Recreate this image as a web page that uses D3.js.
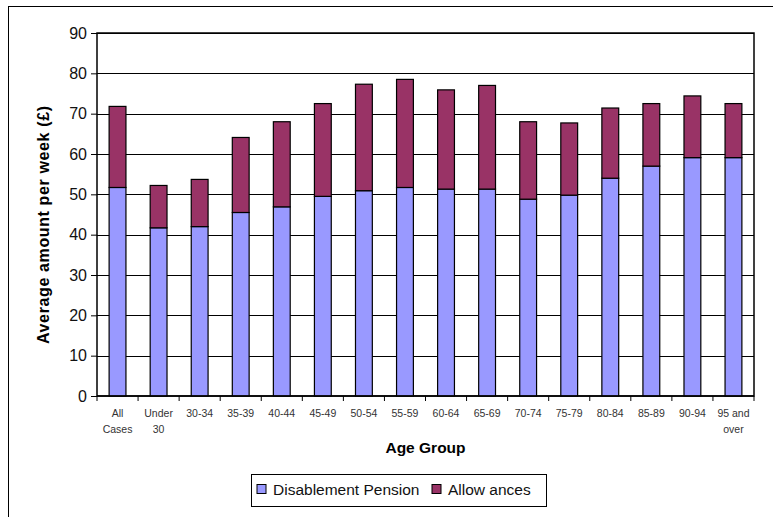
<!DOCTYPE html>
<html>
<head>
<meta charset="utf-8">
<script src="https://cdn.jsdelivr.net/npm/d3@7"></script>
<style>
  body { margin: 0; background: #fff; }
  text { font-family: "Liberation Sans", Arial, sans-serif; }
</style>
</head>
<body>
<div id="chart"></div>
<script>
var categories = ["All Cases", "Under 30", "30-34", "35-39", "40-44", "45-49", "50-54", "55-59",
  "60-64", "65-69", "70-74", "75-79", "80-84", "85-89", "90-94", "95 and over"];
var categoryLines = [["All", "Cases"], ["Under", "30"], ["30-34"], ["35-39"], ["40-44"], ["45-49"],
  ["50-54"], ["55-59"], ["60-64"], ["65-69"], ["70-74"], ["75-79"], ["80-84"], ["85-89"], ["90-94"],
  ["95 and", "over"]];
var disablementPension = [51.7, 41.7, 42.0, 45.5, 46.9, 49.5, 50.9, 51.7, 51.3, 51.3, 48.8, 49.8, 54.0, 57.0, 59.1, 59.1];
var allowances = [20.1, 10.5, 11.7, 18.6, 21.1, 23.0, 26.4, 26.8, 24.6, 25.7, 19.2, 17.9, 17.4, 15.5, 15.3, 13.4];
var yTicks = [0, 10, 20, 30, 40, 50, 60, 70, 80, 90];
var seriesNames = ["Disablement Pension", "Allowances"];
var seriesLegend = ["Disablement Pension", "Allow ances"];
var colors = ["#9999ff", "#993366"];

var W = 773, H = 517;
var m = {left: 97, top: 33, right: 19, bottom: 121};
var w = W - m.left - m.right;
var h = H - m.top - m.bottom;

var svg = d3.select("#chart").append("svg")
  .attr("width", W)
  .attr("height", H);

// outer chart frame (cut off at right and bottom)
svg.append("rect")
  .attr("x", 8.5).attr("y", 6.5)
  .attr("width", W + 10).attr("height", H + 10)
  .attr("fill", "none").attr("stroke", "#000").attr("stroke-width", 1);

var x = d3.scaleBand().domain(categories).range([0, w]).paddingInner(0.59).paddingOuter(0.295);
var y = d3.scaleLinear().domain([0, 90]).range([h, 0]);

var g = svg.append("g").attr("transform", "translate(" + m.left + "," + m.top + ")");

// gridlines
g.append("g").selectAll("line")
  .data(yTicks.slice(1))
  .enter().append("line")
  .attr("x1", 0).attr("x2", w)
  .attr("y1", function(d) { return Math.round(y(d)) + 0.5; })
  .attr("y2", function(d) { return Math.round(y(d)) + 0.5; })
  .attr("stroke", "#000").attr("stroke-width", 1);

// plot frame
g.append("rect")
  .attr("x", 0).attr("y", 0).attr("width", w).attr("height", h)
  .attr("fill", "none").attr("stroke", "#000").attr("stroke-width", 1.5);

var rows = categories.map(function(c, i) {
  return {cat: c, "Disablement Pension": disablementPension[i], "Allowances": allowances[i]};
});
var stacked = d3.stack().keys(seriesNames)(rows);

g.selectAll(".series")
  .data(stacked)
  .enter().append("g")
  .attr("class", "series")
  .attr("fill", function(d, i) { return colors[i]; })
  .selectAll("rect")
  .data(function(d) { return d; })
  .enter().append("rect")
  .attr("x", function(d) { return x(d.data.cat); })
  .attr("y", function(d) { return y(d[1]); })
  .attr("width", x.bandwidth())
  .attr("height", function(d) { return y(d[0]) - y(d[1]); })
  .attr("stroke", "#000").attr("stroke-width", 1.2);

// y axis
var yAxis = d3.axisLeft(y).tickValues(yTicks).tickSize(6).tickPadding(4);
var ya = g.append("g").call(yAxis);
ya.select(".domain").remove();
ya.selectAll("line").attr("stroke", "#000");
ya.selectAll("text").attr("font-size", 16).attr("fill", "#111");

// x axis ticks at band boundaries
var bounds = d3.range(categories.length + 1).map(function(i) { return i * w / categories.length; });
g.append("g").selectAll("line")
  .data(bounds)
  .enter().append("line")
  .attr("x1", function(d) { return d; }).attr("x2", function(d) { return d; })
  .attr("y1", h).attr("y2", h + 5)
  .attr("stroke", "#000");
g.append("line").attr("x1", 0).attr("x2", w).attr("y1", h).attr("y2", h)
  .attr("stroke", "#000").attr("stroke-width", 1.5);

var xl = g.append("g").selectAll("text")
  .data(categories)
  .enter().append("text")
  .attr("x", function(d) { return x(d) + x.bandwidth() / 2; })
  .attr("y", h + 21)
  .attr("text-anchor", "middle")
  .attr("font-size", 10.5)
  .attr("fill", "#333");
xl.selectAll("tspan")
  .data(function(d, i) { return categoryLines[i]; })
  .enter().append("tspan")
  .attr("x", function() { return d3.select(this.parentNode).attr("x"); })
  .attr("dy", function(d, i) { return i === 0 ? 0 : 15.5; })
  .text(function(d) { return d; });

// axis titles
svg.append("text")
  .attr("x", m.left + w / 2).attr("y", 453)
  .attr("text-anchor", "middle")
  .attr("font-size", 15.5).attr("font-weight", "bold")
  .text("Age Group");

svg.append("text")
  .attr("transform", "translate(49,225) rotate(-90)")
  .attr("text-anchor", "middle")
  .attr("font-size", 16).attr("font-weight", "bold")
  .attr("textLength", 238)
  .text("Average amount per week (£)");

// legend
var lg = svg.append("g").attr("transform", "translate(251.5,474.5)");
lg.append("rect").attr("width", 295).attr("height", 32)
  .attr("fill", "#fff").attr("stroke", "#000").attr("stroke-width", 1);
var legendX = [5.5, 180.5];
seriesLegend.forEach(function(s, i) {
  lg.append("rect")
    .attr("x", legendX[i]).attr("y", 10)
    .attr("width", 9).attr("height", 9)
    .attr("fill", colors[i]).attr("stroke", "#000");
  lg.append("text")
    .attr("x", legendX[i] + 16).attr("y", 20)
    .attr("font-size", 15.5).attr("fill", "#111")
    .text(s);
});
</script>
</body>
</html>
